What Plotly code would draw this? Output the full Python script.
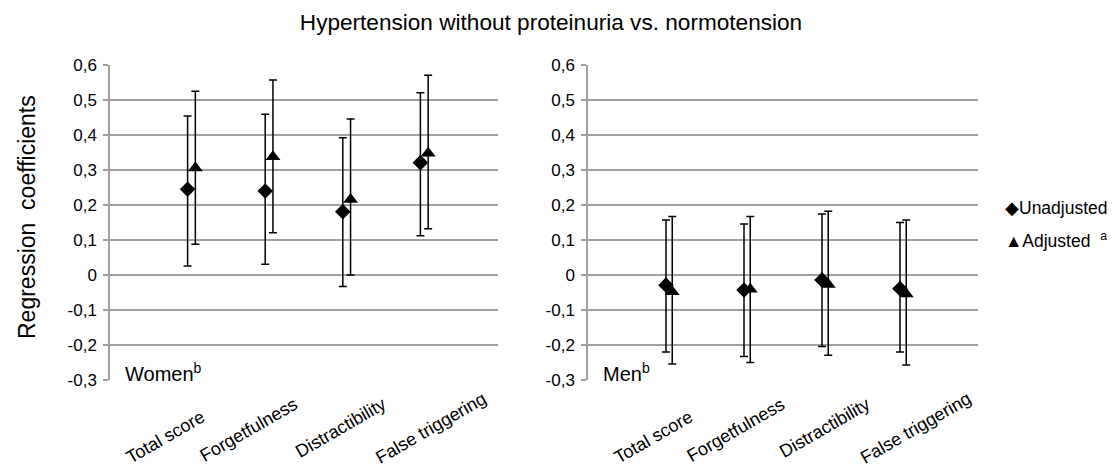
import plotly.graph_objects as go

categories = ["Total score", "Forgetfulness", "Distractibility", "False triggering"]
positions = [1, 2, 3, 4]

# Women
w_unadj = [0.245, 0.240, 0.181, 0.321]
w_unadj_hi = [0.454, 0.459, 0.392, 0.521]
w_unadj_lo = [0.026, 0.031, -0.033, 0.112]
w_adj = [0.306, 0.338, 0.216, 0.348]
w_adj_hi = [0.525, 0.557, 0.446, 0.571]
w_adj_lo = [0.088, 0.121, 0.000, 0.132]

# Men
m_unadj = [-0.029, -0.043, -0.014, -0.039]
m_unadj_hi = [0.157, 0.146, 0.174, 0.150]
m_unadj_lo = [-0.220, -0.233, -0.204, -0.220]
m_adj = [-0.048, -0.041, -0.027, -0.054]
m_adj_hi = [0.167, 0.167, 0.182, 0.157]
m_adj_lo = [-0.254, -0.250, -0.229, -0.257]

ytickvals = [0.6, 0.5, 0.4, 0.3, 0.2, 0.1, 0, -0.1, -0.2, -0.3]
yticktext = ["0,6", "0,5", "0,4", "0,3", "0,2", "0,1", "0", "-0,1", "-0,2", "-0,3"]

FONT = "Liberation Sans, Arial, sans-serif"
PAGE_MARGIN = 8
W, H = 1115 - 2 * PAGE_MARGIN, 468 - PAGE_MARGIN


def px(x):
    return (x - PAGE_MARGIN) / W


def py(y):
    return 1 - (y - PAGE_MARGIN) / H


fig = go.Figure()


def add_pair(xa, ya, unadj, uhi, ulo, adj, ahi, alo, offset):
    fig.add_trace(go.Scatter(
        x=list(positions), y=unadj, mode="markers",
        marker=dict(symbol="diamond", size=12, color="black"),
        error_y=dict(type="data", symmetric=False,
                     array=[h - v for h, v in zip(uhi, unadj)],
                     arrayminus=[v - l for v, l in zip(unadj, ulo)],
                     color="black", thickness=1.5, width=4),
        name="Unadjusted", showlegend=False, xaxis=xa, yaxis=ya))
    fig.add_trace(go.Scatter(
        x=[p + offset for p in positions], y=adj, mode="markers",
        marker=dict(symbol="triangle-up", size=13, color="black"),
        error_y=dict(type="data", symmetric=False,
                     array=[h - v for h, v in zip(ahi, adj)],
                     arrayminus=[v - l for v, l in zip(adj, alo)],
                     color="black", thickness=1.5, width=4),
        name="Adjusted", showlegend=False, xaxis=xa, yaxis=ya))


add_pair("x", "y", w_unadj, w_unadj_hi, w_unadj_lo, w_adj, w_adj_hi, w_adj_lo, 0.1)
add_pair("x2", "y2", m_unadj, m_unadj_hi, m_unadj_lo, m_adj, m_adj_hi, m_adj_lo, 0.08)

ydom = [py(380), py(65)]
xaxis_common = dict(range=[0, 5], autorange=False, showgrid=False, zeroline=False,
                    showticklabels=False, ticks="", showline=False, fixedrange=True)
yaxis_common = dict(range=[-0.3, 0.6], autorange=False, tickvals=ytickvals, ticktext=yticktext,
                    showgrid=True, gridcolor="#a0a0a0", gridwidth=1.5, zeroline=False,
                    showline=True, linecolor="#a0a0a0", linewidth=1.5,
                    ticks="outside", ticklen=5, tickcolor="#a0a0a0", tickwidth=1.5,
                    ticklabelstandoff=3,
                    tickfont=dict(family=FONT, size=17, color="black"), fixedrange=True)

fig.update_layout(
    width=W, height=H,
    margin=dict(l=0, r=0, t=0, b=0, autoexpand=False),
    paper_bgcolor="white", plot_bgcolor="white",
    showlegend=False,
    xaxis=dict(domain=[px(110), px(498)], anchor="y", **xaxis_common),
    yaxis=dict(domain=ydom, anchor="x", **yaxis_common),
    xaxis2=dict(domain=[px(588), px(978)], anchor="y2", **xaxis_common),
    yaxis2=dict(domain=ydom, anchor="x2", **yaxis_common),
    title=dict(text="Hypertension without proteinuria vs. normotension",
               x=px(551), xanchor="center", y=py(22), yanchor="middle",
               font=dict(family=FONT, size=22.6, color="black")),
)

# Rotated category labels (right end of each label, in category units past its tick)
label_shift = {"x": [0.30, 0.49, 0.63, 0.93], "x2": [0.42, 0.60, 0.69, 0.99]}
label_tops = [404, 391, 391, 386]
for xa in ("x", "x2"):
    for i, cat in enumerate(categories):
        fig.add_annotation(text=cat, x=positions[i] + label_shift[xa][i], xref=xa,
                           y=py(label_tops[i]), yref="paper",
                           xanchor="right", yanchor="top", textangle=-30,
                           showarrow=False,
                           font=dict(family=FONT, size=18, color="black"))

fig.add_annotation(text="Regression  coefficients", x=px(27), y=py(217),
                   xref="paper", yref="paper", textangle=-90, showarrow=False,
                   xanchor="center", yanchor="middle",
                   font=dict(family=FONT, size=23, color="black"))
fig.add_annotation(text="Women<sup>b</sup>", x=px(123), y=py(372),
                   xref="paper", yref="paper", showarrow=False,
                   xanchor="left", yanchor="middle",
                   font=dict(family=FONT, size=20, color="black"))
fig.add_annotation(text="Men<sup>b</sup>", x=px(601), y=py(372),
                   xref="paper", yref="paper", showarrow=False,
                   xanchor="left", yanchor="middle",
                   font=dict(family=FONT, size=20, color="black"))

# Legend
fig.add_annotation(text="\u25c6Unadjusted", x=px(1003), y=py(208),
                   xref="paper", yref="paper", showarrow=False,
                   xanchor="left", yanchor="middle",
                   font=dict(family=FONT, size=17.5, color="black"))
fig.add_annotation(text="\u25b2Adjusted  <sup>a</sup>", x=px(1003), y=py(240),
                   xref="paper", yref="paper", showarrow=False,
                   xanchor="left", yanchor="middle",
                   font=dict(family=FONT, size=17.5, color="black"))

fig.write_html("out.html")
